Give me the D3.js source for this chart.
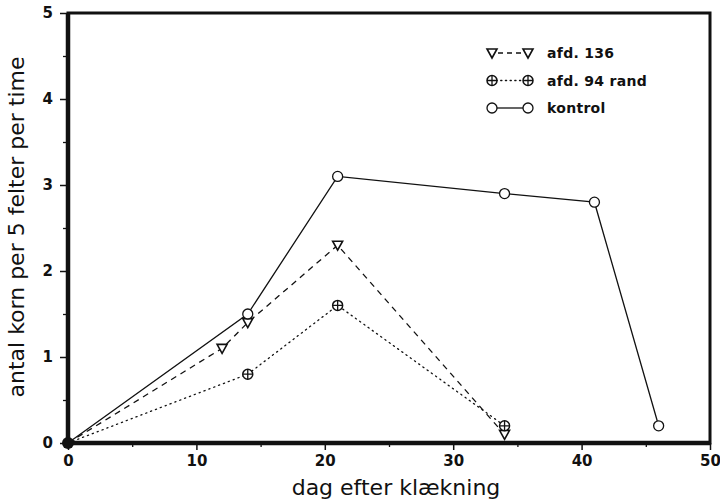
<!DOCTYPE html>
<html><head><meta charset="utf-8">
<script src="https://cdn.jsdelivr.net/npm/d3@7"></script>
<style>body{margin:0;background:#fff}svg{display:block}</style>
</head><body>
<script>
const xTicks = [0,10,20,30,40,50];
const yTicks = [0,1,2,3,4,5];
const seriesNames = ["afd. 136","afd. 94 rand","kontrol"];
const afd136 = [[0,0],[12,1.1],[14,1.4],[21,2.3],[34,0.1]];
const afd94 = [[0,0],[14,0.8],[21,1.6],[34,0.2]];
const kontrol = [[0,0],[14,1.5],[21,3.1],[34,2.9],[41,2.8],[46,0.2]];
const xLabel = "dag efter klækning";
const yLabel = "antal korn per 5 felter per time";

const W=720,H=502;
const svg=d3.select("body").append("svg").attr("width",W).attr("height",H);
const x=d3.scaleLinear().domain([0,50]).range([68,710]);
const y=d3.scaleLinear().domain([0,5]).range([443,13]);
const ink="#111";
const font="'DejaVu Sans', sans-serif";

// minor ticks
const xa=d3.axisBottom(x).tickValues(d3.range(5,50,10)).tickSize(4).tickFormat("");
const ya=d3.axisLeft(y).tickValues(d3.range(0.5,5,1)).tickSize(5).tickFormat("");
svg.append("g").attr("transform","translate(0,443)").call(xa).call(g=>g.select(".domain").remove()).selectAll("line").attr("stroke",ink).attr("stroke-width",1.3);
svg.append("g").attr("transform","translate(68,0)").call(ya).call(g=>g.select(".domain").remove()).selectAll("line").attr("stroke",ink).attr("stroke-width",1.3);
// major ticks
const xA=d3.axisBottom(x).tickValues(xTicks).tickSize(7).tickPadding(5).tickFormat(d3.format("d"));
const yA=d3.axisLeft(y).tickValues(yTicks).tickSize(8).tickPadding(7).tickFormat(d3.format("d"));
const gx=svg.append("g").attr("transform","translate(0,443)").call(xA);
const gy=svg.append("g").attr("transform","translate(68,0)").call(yA);
[gx,gy].forEach(g=>{g.select(".domain").remove();g.selectAll("line").attr("stroke",ink).attr("stroke-width",1.5);
 g.selectAll("text").attr("fill",ink).style("font-family",font).style("font-size","15px").style("font-weight","bold");});

// frame
svg.append("rect").attr("x",x(0)).attr("y",y(5)).attr("width",x(50)-x(0)).attr("height",y(0)-y(5))
 .attr("fill","none").attr("stroke",ink).attr("stroke-width",3);
svg.append("line").attr("x1",x(0)).attr("x2",x(0)).attr("y1",y(5)).attr("y2",y(0)).attr("stroke",ink).attr("stroke-width",4.5);
svg.append("line").attr("x1",x(0)).attr("x2",x(50)).attr("y1",y(0)).attr("y2",y(0)).attr("stroke",ink).attr("stroke-width",4.5);

const line=d3.line().x(d=>x(d[0])).y(d=>y(d[1]));
const styles=[{data:afd136,dash:"6,5",cap:"butt"},{data:afd94,dash:"1.2,4",cap:"round"},{data:kontrol,dash:null,cap:"butt"}];
styles.forEach(s=>{
 svg.append("path").attr("d",line(s.data)).attr("fill","none").attr("stroke",ink).attr("stroke-width",1.3)
  .attr("stroke-dasharray",s.dash).attr("stroke-linecap",s.cap);
});

function marker(g,type,cx,cy){
 if(type===0){
  g.append("path").attr("d",`M${cx-5},${cy-4} L${cx+5},${cy-4} L${cx},${cy+5} Z`).attr("fill","#fff").attr("stroke",ink).attr("stroke-width",1.6);
 } else if(type===1){
  g.append("circle").attr("cx",cx).attr("cy",cy).attr("r",5).attr("fill","#fff").attr("stroke",ink).attr("stroke-width",1.5);
  g.append("path").attr("d",`M${cx-5},${cy} H${cx+5} M${cx},${cy-5} V${cy+5}`).attr("stroke",ink).attr("stroke-width",1.3);
 } else {
  g.append("circle").attr("cx",cx).attr("cy",cy).attr("r",5).attr("fill","#fff").attr("stroke",ink).attr("stroke-width",1.3);
 }
}
const mg=svg.append("g");
styles.forEach((s,i)=>{s.data.forEach(d=>{ if(d[0]>0) marker(mg,i,x(d[0]),y(d[1])); });});
// origin blob
mg.append("circle").attr("cx",x(0)).attr("cy",y(0)).attr("r",6).attr("fill",ink);

// legend
const lg=svg.append("g");
seriesNames.forEach((n,i)=>{
 const ly=53+i*27.5;
 lg.append("line").attr("x1",496).attr("x2",524).attr("y1",ly).attr("y2",ly).attr("stroke",ink).attr("stroke-width",1.3)
  .attr("stroke-dasharray",styles[i].dash? (i===0?"5,4":"1.2,3.5"):null).attr("stroke-linecap",styles[i].cap)
  .attr("stroke-dashoffset",i===0?-2:0);
 marker(lg,i,492,ly); marker(lg,i,528,ly);
 lg.append("text").attr("x",547).attr("y",ly+5).text(n).attr("fill",ink)
  .style("font-family",font).style("font-size","14px").style("font-weight","bold").style("letter-spacing","0.3px");
});

// axis labels
svg.append("text").attr("x",396).attr("y",495).attr("text-anchor","middle").text(xLabel)
 .attr("fill",ink).style("font-family",font).style("font-size","22px");
svg.append("text").attr("transform","translate(24,227) rotate(-90)").attr("text-anchor","middle").text(yLabel)
 .attr("fill",ink).style("font-family",font).style("font-size","22px");
</script>
</body></html>
